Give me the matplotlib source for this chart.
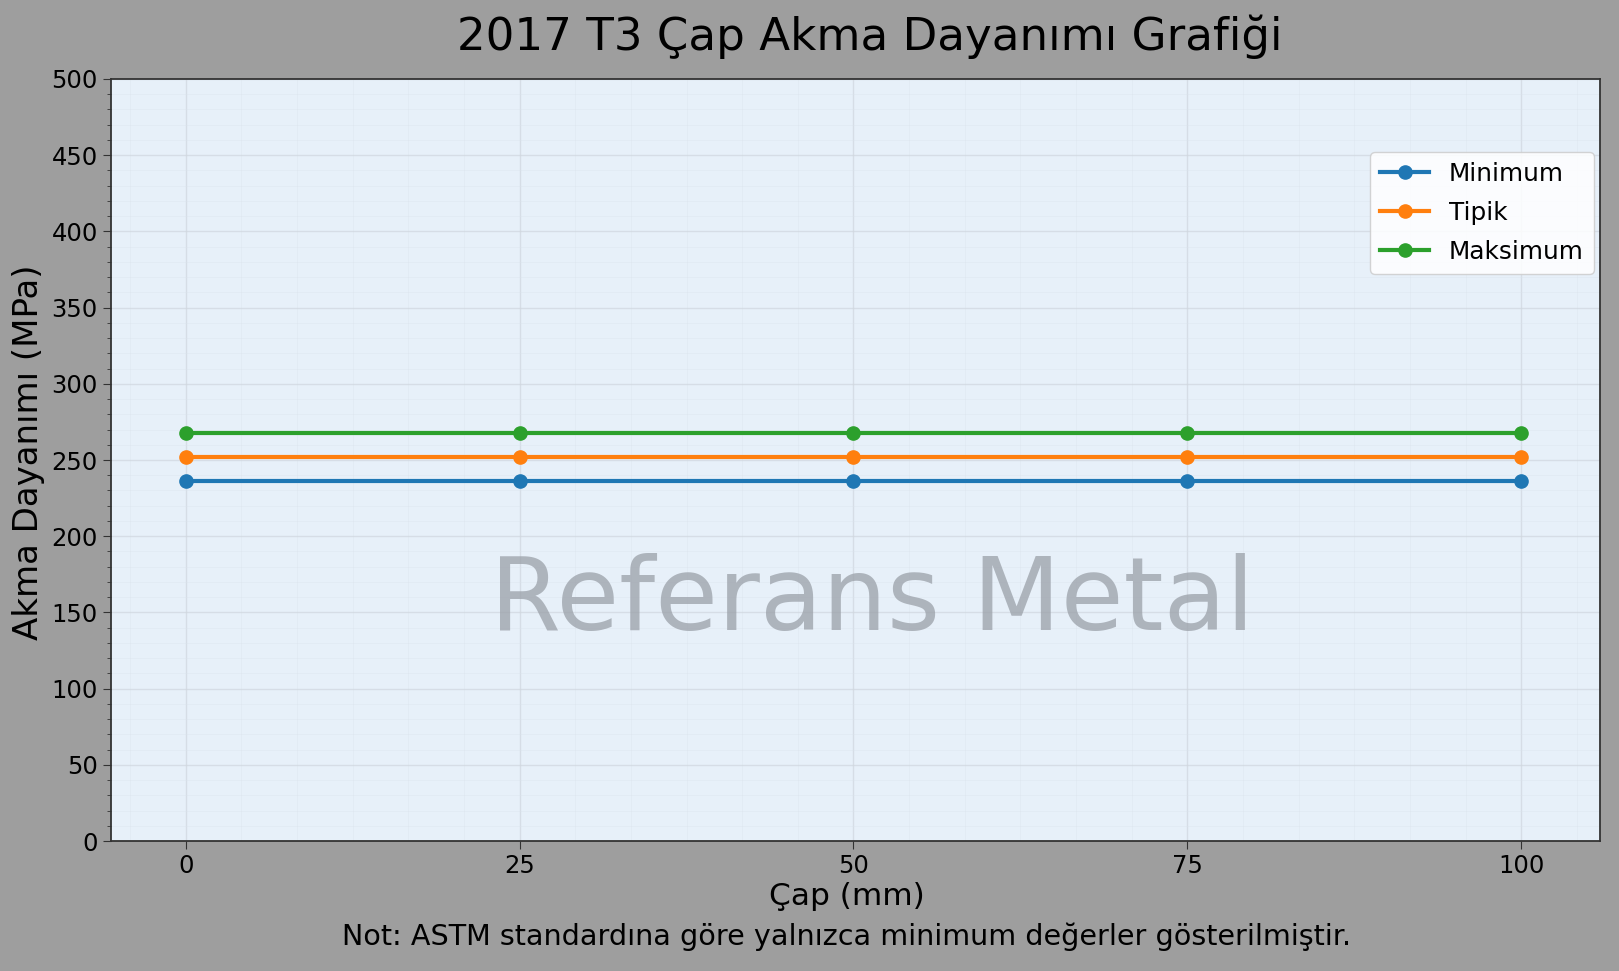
import matplotlib
matplotlib.use("Agg")
from matplotlib import pyplot as plt
from matplotlib.ticker import MultipleLocator

# values
diameters = [0, 25, 50, 75, 100]
minimum_values = [236, 236, 236, 236, 236]
typical_values = [252, 252, 252, 252, 252]
maximum_values = [268, 268, 268, 268, 268]
series_names = ["Minimum", "Tipik", "Maksimum"]
series_colors = ["#1f77b4", "#ff7f0e", "#2ca02c"]

title_text = "2017 T3 Çap Akma Dayanımı Grafiği"
x_label = "Çap (mm)"
y_label = "Akma Dayanımı (MPa)"
note_text = "Not: ASTM standardına göre yalnızca minimum değerler gösterilmiştir."
watermark = "Referans Metal"

plt.rcParams["font.family"] = ["DejaVu Sans"]

fig = plt.figure(figsize=(16.19, 9.71), dpi=100, facecolor="#9e9e9e")
ax = fig.add_axes([111 / 1619, 1 - 841 / 971, (1600 - 111) / 1619, (841 - 79) / 971])
ax.set_facecolor("#e7f0f9")

for values, name, color in zip([minimum_values, typical_values, maximum_values],
                               series_names, series_colors):
    ax.plot(diameters, values, marker="o", color=color, linewidth=3,
            markersize=9.5, label=name, zorder=3)

ax.set_xlim(-5.6, 105.9)
ax.set_ylim(0, 500)
ax.xaxis.set_major_locator(MultipleLocator(25))
ax.xaxis.set_minor_locator(MultipleLocator(25 / 6))
ax.yaxis.set_major_locator(MultipleLocator(50))
ax.yaxis.set_minor_locator(MultipleLocator(10))
ax.tick_params(axis="both", which="major", labelsize=17.5, length=6, color="#333333")
ax.tick_params(axis="x", which="minor", length=0)
ax.tick_params(axis="y", which="minor", length=3, color="#333333")

ax.grid(True, which="major", color="#cfd6de", linewidth=1, alpha=0.7)
ax.grid(True, which="minor", color="#dbe3ec", linewidth=0.6, alpha=0.45)
ax.set_axisbelow(True)
for spine in ax.spines.values():
    spine.set_color("#333333")
    spine.set_linewidth(1.3)

fig.text(870 / 1619, 1 - 37 / 971, title_text, fontsize=32.5, ha="center", va="center")
ax.set_xlabel(x_label, fontsize=22.5)
ax.set_ylabel(y_label, fontsize=24.5)
ax.xaxis.set_label_coords(0.4945, -0.054)
ax.yaxis.set_label_coords(-0.044, 0.51)

ax.text(0.511, 0.313, watermark, transform=ax.transAxes, fontsize=73.5,
        color="#9aa0a8", alpha=0.75, ha="center", va="center", zorder=4)

ax.legend(loc="upper right", bbox_to_anchor=(1.0, 0.912), fontsize=17.8,
          framealpha=0.85, edgecolor="#cccccc", handlelength=2.0,
          labelspacing=0.6, borderaxespad=0.25, handletextpad=0.8)

fig.text(847 / 1619, 1 - 937 / 971, note_text, fontsize=20.6, ha="center", va="center")

fig.savefig("out.png", dpi=100, facecolor=fig.get_facecolor())
